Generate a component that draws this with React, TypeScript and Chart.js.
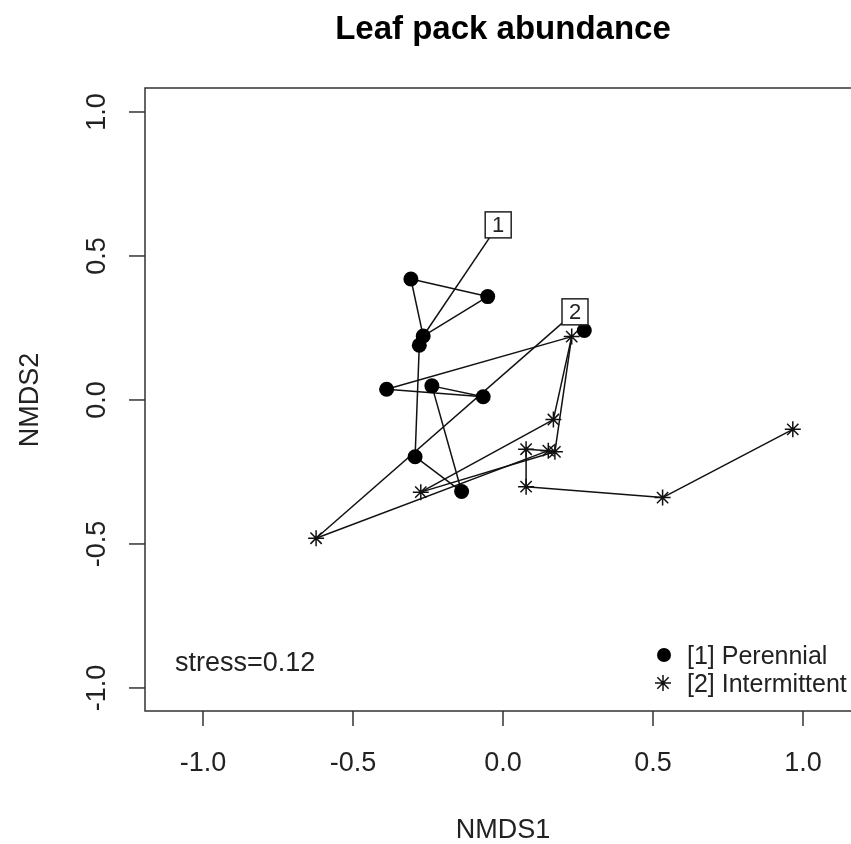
import React, { useEffect, useRef } from "react";
import { Chart, registerables } from "chart.js";

Chart.register(...registerables);

// ---- data ----
const perennialNMDS1 = [-0.307, -0.051, -0.266, -0.279, -0.388, -0.237, -0.066, -0.293, -0.138, 0.271];
const perennialNMDS2 = [0.42, 0.359, 0.222, 0.19, 0.037, 0.049, 0.011, -0.197, -0.318, 0.241];
const intermittentNMDS1 = [0.229, 0.168, 0.077, 0.151, 0.173, 0.077, -0.274, -0.623, 0.532, 0.966];
const intermittentNMDS2 = [0.22, -0.068, -0.171, -0.176, -0.18, -0.301, -0.32, -0.48, -0.339, -0.102];
const groupLabels = ["1", "2"];
const groupLabelNMDS1 = [-0.016, 0.24];
const groupLabelNMDS2 = [0.608, 0.306];
const legendLabels = ["[1] Perennial", "[2] Intermittent"];
const xTickValues = [-1, -0.5, 0, 0.5, 1];
const xTickLabels = ["-1.0", "-0.5", "0.0", "0.5", "1.0"];
const yTickValues = [-1, -0.5, 0, 0.5, 1];
const yTickLabels = ["-1.0", "-0.5", "0.0", "0.5", "1.0"];
const titleText = "Leaf pack abundance";
const xAxisTitle = "NMDS1";
const yAxisTitle = "NMDS2";
const stressText = "stress=0.12";
// segments: P = perennial index, I = intermittent index, L = group label index
const segments: [string, string][] = [
  ["L0", "P2"], ["P0", "P1"], ["P0", "P2"], ["P1", "P2"], ["P3", "P7"],
  ["P4", "I0"], ["P4", "P6"], ["P5", "P6"], ["P5", "P8"], ["P7", "P8"],
  ["L1", "I7"], ["I7", "I3"], ["I6", "I4"], ["I6", "I1"], ["I0", "I1"],
  ["I0", "I4"], ["I2", "I3"], ["I2", "I5"], ["I5", "I8"], ["I8", "I9"],
];
const xLimits = [-1.1933, 1.16];
const yLimits = [-1.08, 1.0833];

function pointOf(id: string) {
  const k = id[0];
  const i = parseInt(id.slice(1), 10);
  if (k === "P") return { x: perennialNMDS1[i], y: perennialNMDS2[i] };
  if (k === "I") return { x: intermittentNMDS1[i], y: intermittentNMDS2[i] };
  return { x: groupLabelNMDS1[i], y: groupLabelNMDS2[i] };
}

const FONT = '"Liberation Sans", Arial, Helvetica, sans-serif';

function drawStar(ctx: CanvasRenderingContext2D, cx: number, cy: number, r: number) {
  ctx.beginPath();
  ctx.moveTo(cx - r, cy); ctx.lineTo(cx + r, cy);
  ctx.moveTo(cx, cy - r); ctx.lineTo(cx, cy + r);
  const d = r * Math.SQRT1_2;
  ctx.moveTo(cx - d, cy - d); ctx.lineTo(cx + d, cy + d);
  ctx.moveTo(cx - d, cy + d); ctx.lineTo(cx + d, cy - d);
  ctx.stroke();
}

const decorPlugin = {
  id: "decor",
  afterDatasetsDraw(chart: any) {
    const ctx: CanvasRenderingContext2D = chart.ctx;
    const xs = chart.scales.x;
    const ys = chart.scales.y;
    ctx.save();
    ctx.font = `22px ${FONT}`;
    ctx.textAlign = "center";
    ctx.textBaseline = "middle";
    groupLabels.forEach((lab, i) => {
      const px = xs.getPixelForValue(groupLabelNMDS1[i]);
      const py = ys.getPixelForValue(groupLabelNMDS2[i]);
      const w = 26, h = 26;
      ctx.fillStyle = "#ffffff";
      ctx.fillRect(px - w / 2, py - h / 2, w, h);
      ctx.strokeStyle = "#222";
      ctx.lineWidth = 1.5;
      ctx.strokeRect(px - w / 2, py - h / 2, w, h);
      ctx.fillStyle = "#222";
      ctx.fillText(lab, px, py + 1);
    });
    ctx.restore();
  },
  afterDraw(chart: any) {
    const ctx: CanvasRenderingContext2D = chart.ctx;
    const { left, right, top, bottom } = chart.chartArea;
    const xs = chart.scales.x;
    const ys = chart.scales.y;
    ctx.save();
    ctx.strokeStyle = "#333";
    ctx.lineWidth = 1.5;
    ctx.beginPath();
    ctx.moveTo(right + 5, top); ctx.lineTo(left, top); ctx.lineTo(left, bottom); ctx.lineTo(right + 5, bottom);
    ctx.stroke();
    ctx.fillStyle = "#222";
    ctx.font = `27px ${FONT}`;
    ctx.textAlign = "center";
    ctx.textBaseline = "alphabetic";
    xTickValues.forEach((v, i) => {
      const px = xs.getPixelForValue(v);
      ctx.beginPath();
      ctx.moveTo(px, bottom); ctx.lineTo(px, bottom + 15);
      ctx.stroke();
      ctx.fillText(xTickLabels[i], px, bottom + 60);
    });
    yTickValues.forEach((v, i) => {
      const py = ys.getPixelForValue(v);
      ctx.beginPath();
      ctx.moveTo(left, py); ctx.lineTo(left - 16, py);
      ctx.stroke();
      ctx.save();
      ctx.translate(left - 40, py);
      ctx.rotate(-Math.PI / 2);
      ctx.fillText(yTickLabels[i], 0, 0);
      ctx.restore();
    });
    ctx.fillText(xAxisTitle, xs.getPixelForValue(0), bottom + 127);
    ctx.save();
    ctx.translate(38, ys.getPixelForValue(0));
    ctx.rotate(-Math.PI / 2);
    ctx.fillText(yAxisTitle, 0, 0);
    ctx.restore();
    ctx.font = `bold 33px ${FONT}`;
    ctx.fillStyle = "#000";
    ctx.fillText(titleText, xs.getPixelForValue(0), 39);
    ctx.font = `27px ${FONT}`;
    ctx.fillStyle = "#222";
    ctx.textAlign = "left";
    ctx.fillText(stressText, left + 30, bottom - 40);
    ctx.font = `25px ${FONT}`;
    ctx.fillText(legendLabels[0], right - 164, bottom - 47);
    ctx.fillText(legendLabels[1], right - 164, bottom - 19);
    ctx.fillStyle = "#000";
    ctx.beginPath();
    ctx.arc(right - 187, bottom - 56, 7, 0, Math.PI * 2);
    ctx.fill();
    ctx.strokeStyle = "#111";
    ctx.lineWidth = 1.5;
    drawStar(ctx, right - 188, bottom - 28, 8);
    ctx.restore();
  },
};

export default function App() {
  const ref = useRef<HTMLCanvasElement | null>(null);
  useEffect(() => {
    document.body.style.margin = "0";
    const canvas = ref.current!;
    const segDatasets = segments.map(([a, b]) => ({
      type: "line" as const,
      data: [pointOf(a), pointOf(b)],
      borderColor: "#111",
      borderWidth: 1.5,
      pointRadius: 0,
      fill: false,
      order: 2,
    }));
    const chart = new Chart(canvas, {
      type: "scatter",
      data: {
        datasets: [
          {
            label: legendLabels[0],
            data: perennialNMDS1.map((x, i) => ({ x, y: perennialNMDS2[i] })),
            pointStyle: "circle",
            pointRadius: 7.5,
            backgroundColor: "#000",
            borderColor: "#000",
            borderWidth: 0,
            order: 0,
          },
          {
            label: legendLabels[1],
            data: intermittentNMDS1.map((x, i) => ({ x, y: intermittentNMDS2[i] })),
            pointStyle: "star",
            pointRadius: 8,
            backgroundColor: "#111",
            borderColor: "#111",
            borderWidth: 1.5,
            order: 0,
          },
          ...(segDatasets as any[]),
        ],
      },
      options: {
        responsive: false,
        animation: false,
        devicePixelRatio: 1,
        layout: { autoPadding: false, padding: { left: 145, top: 88, right: 0, bottom: 133 } },
        plugins: { legend: { display: false }, tooltip: { enabled: false }, title: { display: false } },
        scales: {
          x: { type: "linear", min: xLimits[0], max: xLimits[1], display: false },
          y: { type: "linear", min: yLimits[0], max: yLimits[1], display: false },
        },
      },
      plugins: [decorPlugin],
    });
    return () => chart.destroy();
  }, []);
  return <canvas ref={ref} width={851} height={844} style={{ display: "block" }} />;
}
